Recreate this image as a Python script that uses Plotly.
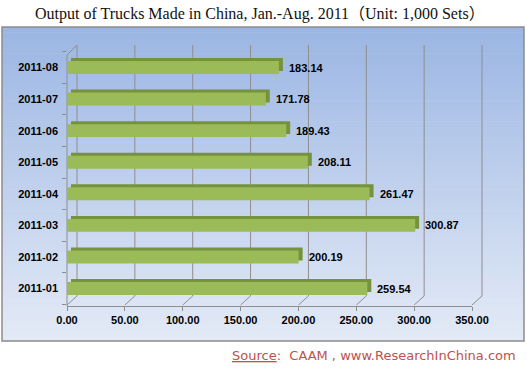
import plotly.graph_objects as go

# ---------------- data ----------------
months = ["2011-01", "2011-02", "2011-03", "2011-04",
          "2011-05", "2011-06", "2011-07", "2011-08"]
output_k_sets = [259.54, 200.19, 300.87, 261.47, 208.11, 189.43, 171.78, 183.14]
x_tick_values = [0, 50, 100, 150, 200, 250, 300, 350]
x_tick_labels = ["%.2f" % v for v in x_tick_values]
title_text = "Output of Trucks Made in China, Jan.-Aug. 2011（Unit: 1,000 Sets）"
source_text = "<u>Source</u>:  CAAM , www.ResearchInChina.com"

# ---------------- layout helpers (pixel -> paper) ----------------
W, H = 527, 371
def fx(px): return px / W
def fy(py): return 1 - py / H

X0, X350 = 67, 472          # front axis pixels for 0 and 350
BX0, BX350 = 70, 476        # bar front-face pixels
Y_TOP, Y_BOT = 45, 306      # plot area vertical extent (pixels)
DEPTH_X, DEPTH_Y = 10, 10   # 3-D depth of walls
c0, step = 288.5, 31.57     # pixel centre of first category, category spacing
yrange = [-((Y_BOT - c0) / step), (c0 - Y_TOP) / step]
BAR_W = 0.41
bar_px_per = (BX350 - BX0) / 350.0
SIDE_BASE = 4 / bar_px_per          # 4 px side face expressed in axis units
TOP_SHIFT = 3 / step                # 3 px top face expressed in category units

fig = go.Figure()

# invisible trace that carries the tick axis (x / y)
fig.add_trace(go.Scatter(
    y=months, x=output_k_sets, mode="markers", marker=dict(opacity=0),
    xaxis="x", yaxis="y", hoverinfo="skip", showlegend=False))
# back (dark) bars = top/side faces
fig.add_trace(go.Bar(
    y=months, x=output_k_sets, orientation="h", width=BAR_W,
    base=SIDE_BASE, offset=-BAR_W / 2 + TOP_SHIFT,
    marker=dict(color="#76923C", line=dict(width=0)),
    xaxis="x2", yaxis="y", hoverinfo="skip", showlegend=False))
# front bars
fig.add_trace(go.Bar(
    y=months, x=output_k_sets, orientation="h", width=BAR_W,
    offset=-BAR_W / 2,
    marker=dict(color="#9BBB59", line=dict(width=0)),
    xaxis="x2", yaxis="y", showlegend=False))

shapes = []
# background gradient of chart area
top_rgb = (155, 182, 227)
bot_rgb = (227, 234, 246)
y_a, y_b = 27, 341
n = 60
for i in range(n):
    t = i / (n - 1)
    r = [round(top_rgb[k] + (bot_rgb[k] - top_rgb[k]) * t) for k in range(3)]
    ya = y_a + (y_b - y_a) * i / n
    yb = y_a + (y_b - y_a) * (i + 1) / n + 0.6
    shapes.append(dict(type="rect", xref="paper", yref="paper", layer="below",
                       x0=fx(2), x1=fx(524), y0=fy(ya), y1=fy(min(yb, y_b)),
                       line=dict(width=0), fillcolor="rgb(%d,%d,%d)" % tuple(r)))
# chart area border
shapes.append(dict(type="rect", xref="paper", yref="paper", layer="below",
                   x0=fx(2), x1=fx(524), y0=fy(27), y1=fy(341),
                   line=dict(color="#8C8C8C", width=1.5), fillcolor="rgba(0,0,0,0)"))

grid_col = "#8E8E8E"
px_per = (X350 - X0) / 350.0
for v in x_tick_values:
    xp = X0 + v * px_per
    # back wall vertical gridline
    shapes.append(dict(type="line", xref="paper", yref="paper", layer="below",
                       x0=fx(xp + DEPTH_X), x1=fx(xp + DEPTH_X),
                       y0=fy(Y_BOT - DEPTH_Y), y1=fy(Y_TOP),
                       line=dict(color=grid_col, width=1)))
    # floor diagonal
    shapes.append(dict(type="line", xref="paper", yref="paper", layer="below",
                       x0=fx(xp), x1=fx(xp + DEPTH_X),
                       y0=fy(Y_BOT - 1), y1=fy(Y_BOT - DEPTH_Y),
                       line=dict(color=grid_col, width=1)))
# left wall front edge + top diagonal
shapes.append(dict(type="line", xref="paper", yref="paper", layer="below",
                   x0=fx(X0), x1=fx(X0), y0=fy(Y_BOT), y1=fy(Y_TOP + DEPTH_Y),
                   line=dict(color=grid_col, width=1)))
shapes.append(dict(type="line", xref="paper", yref="paper", layer="below",
                   x0=fx(X0), x1=fx(X0 + DEPTH_X), y0=fy(Y_TOP + DEPTH_Y), y1=fy(Y_TOP),
                   line=dict(color=grid_col, width=1)))

lab_font = dict(family="Liberation Sans", size=11, color="#000000", weight="bold")

# value labels
annotations = []
for m, v in zip(months, output_k_sets):
    annotations.append(dict(x=v, y=m, xref="x2", yref="y", text="%.2f" % v,
                            showarrow=False, xanchor="left", yanchor="middle",
                            xshift=8, yshift=0, font=lab_font))
annotations.append(dict(x=fx(259.5), y=fy(14), xref="paper", yref="paper",
                        text=title_text, showarrow=False,
                        xanchor="center", yanchor="middle",
                        font=dict(family="Liberation Serif, Noto Sans CJK JP", size=16,
                                  color="#111111")))
annotations.append(dict(x=fx(518), y=fy(355), xref="paper", yref="paper",
                        text=source_text, showarrow=False,
                        xanchor="right", yanchor="middle",
                        font=dict(family="DejaVu Sans", size=13, color="#C0504D")))

fig.update_layout(
    template="none",
    width=W, height=H,
    margin=dict(l=0, r=0, t=0, b=0, pad=0, autoexpand=False),
    paper_bgcolor="white", plot_bgcolor="rgba(0,0,0,0)",
    barmode="overlay",
    shapes=shapes, annotations=annotations,
    xaxis=dict(domain=[fx(X0), fx(X350)], range=[0, 350], anchor="y",
               automargin=False,
               tickmode="array", tickvals=x_tick_values, ticktext=x_tick_labels,
               showgrid=False, zeroline=False,
               showline=True, linecolor=grid_col, linewidth=1,
               ticks="outside", ticklen=4, tickcolor=grid_col,
               tickfont=lab_font),
    xaxis2=dict(domain=[fx(BX0), fx(BX350)], range=[0, 350], anchor="y",
                overlaying="x", visible=False, automargin=False),
    yaxis=dict(domain=[fy(Y_BOT), fy(Y_TOP)], range=yrange, anchor="x",
               automargin=False,
               type="category", categoryorder="array", categoryarray=months,
               showgrid=False, zeroline=False, showline=False,
               ticks="outside", ticklen=4, tickcolor=grid_col, tickson="boundaries",
               ticklabelstandoff=8, tickfont=lab_font),
)

fig.write_html("out.html", config={"displayModeBar": False},
               post_script="document.body.style.margin='0';")
